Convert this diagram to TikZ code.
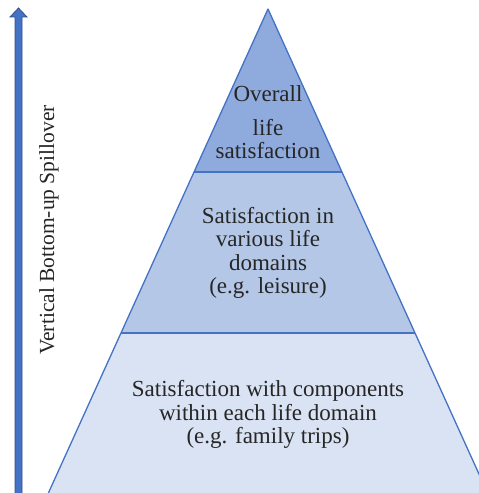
\documentclass[tikz,border=0pt]{standalone}
\usepackage{fontspec}
\setmainfont{Liberation Serif}
\definecolor{topfill}{HTML}{8FAADC}
\definecolor{midfill}{HTML}{B4C7E7}
\definecolor{botfill}{HTML}{DAE3F3}
\definecolor{edge}{HTML}{4472C4}
\definecolor{arrdark}{HTML}{2F528F}
\tikzset{
  layer/.style={draw=edge, line width=1.3pt, line join=round},
  lbl/.style={font=\fontsize{23}{23.5}\selectfont, align=center, text=black!85, inner sep=0pt, anchor=base},
  sidelbl/.style={font=\fontsize{21.5}{24}\selectfont, text=black!85, inner sep=0pt, rotate=90, anchor=base},
  blockarrow/.style={fill=edge, draw=arrdark, line width=0.8pt, line join=miter}
}
\begin{document}
\begin{tikzpicture}[x=1pt,y=1pt]
\useasboundingbox (0,0) rectangle (479,493);
\begin{scope}
\clip (0,0) rectangle (479,493);
% pyramid corner points
\coordinate (apex) at (268,484);
\coordinate (ml) at (194,321);
\coordinate (mr) at (342,321);
\coordinate (ll) at (121,160);
\coordinate (lr) at (415,160);
\coordinate (bl) at (48.4,0);
\coordinate (br) at (487.6,0);
\fill[botfill] (ll) -- (lr) -- (br) -- (bl) -- cycle;
\fill[midfill] (ml) -- (mr) -- (lr) -- (ll) -- cycle;
\fill[topfill] (apex) -- (mr) -- (ml) -- cycle;
\draw[layer] (bl) -- (apex) -- (br);
\draw[layer] (ml) -- (mr);
\draw[layer] (ll) -- (lr);
\end{scope}
% labels (base anchor = baseline of the last line)
\node[lbl] (t1) at (268,391) {Overall};
\node[lbl] (t2) at (268,334) {life\\satisfaction};
\node[lbl] (t3) at (268,199) {Satisfaction in\\various life\\domains\\(e.g. leisure)};
\node[lbl] (t4) at (268,49) {Satisfaction with components\\within each life domain\\(e.g. family trips)};
% side arrow
\coordinate (abot) at (18.5,-1);
\coordinate (atop) at (18.5,485);
\filldraw[blockarrow] ([xshift=-3.5pt]abot) -- ([xshift=-3.5pt,yshift=-9pt]atop) -- ([xshift=-8.5pt,yshift=-9pt]atop) -- (atop) -- ([xshift=8.5pt,yshift=-9pt]atop) -- ([xshift=3.5pt,yshift=-9pt]atop) -- ([xshift=3.5pt]abot) -- cycle;
\node[sidelbl] (side) at (54,263) {Vertical Bottom-up Spillover};
\end{tikzpicture}
\end{document}
